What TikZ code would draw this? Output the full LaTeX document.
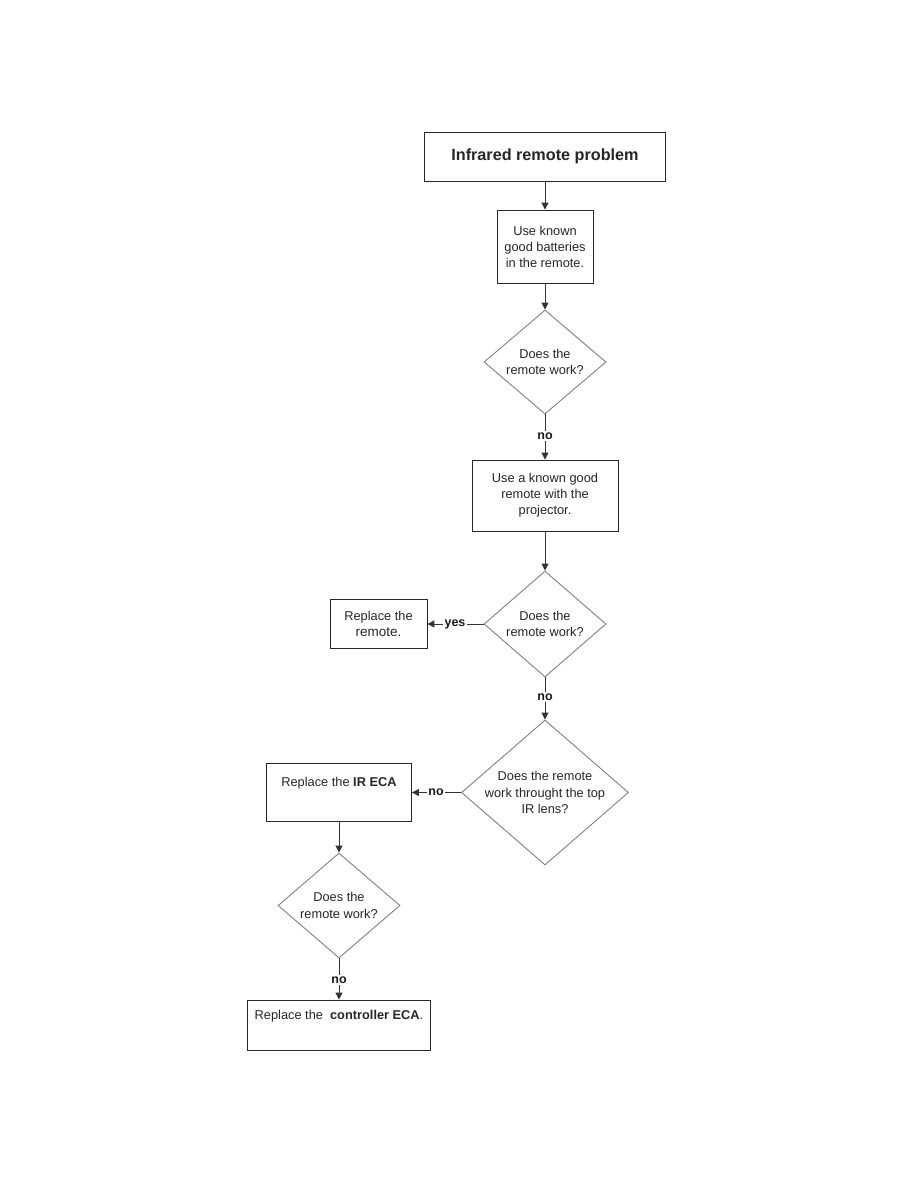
\documentclass[tikz,border=0pt]{standalone}
\usepackage{fontspec}
\setmainfont{Liberation Sans}
\usetikzlibrary{shapes.geometric,arrows.meta}
\begin{document}
\begin{tikzpicture}[x=1pt,y=-1pt,
  box/.style={draw=black!85, line width=0.9pt, fill=white, align=center, inner sep=0pt, text=black!85, font=\fontsize{12.8}{16}\selectfont},
  dia/.style={diamond, draw=black!50, line width=0.9pt, align=center, inner sep=0pt, text=black!85, font=\fontsize{12.8}{16.5}\selectfont},
  diatext/.style={align=center, inner sep=0pt, text=black!85, font=\fontsize{12.8}{16.5}\selectfont},
  lbl/.style={font=\bfseries\fontsize{12.5}{14}\selectfont, inner sep=1.5pt, text=black!90},
  conn/.style={draw=black!80, line width=1pt},
  arr/.style={conn, -{Triangle[length=7pt,width=7pt]}}]
\useasboundingbox[fill=white] (0,0) rectangle (918,1188);
\node[box, minimum width=241, minimum height=49, font=\bfseries\fontsize{16.2}{18}\selectfont] (t) at (545,156.5) {Infrared remote problem};
\node[box, minimum width=96, minimum height=73] (b1) at (545,246.5) {Use known\\good batteries\\in the remote.};
\node[dia, minimum width=122, minimum height=104] (d1) at (545,362) {Does the\\remote work?};
\node[lbl] (n1) at (545,436) {no};
\node[box, minimum width=146, minimum height=71] (b2) at (545,495.5) {Use a known good\\remote with the\\projector.};
\node[dia, minimum width=122, minimum height=106] (d2) at (545,624) {Does the\\remote work?};
\node[box, minimum width=97, minimum height=49] (r1) at (378.5,624) {Replace the\\{\fontsize{13.5}{16}\selectfont remote.}};
\node[lbl] (y2) at (455,624) {yes};
\node[lbl] (n2) at (545,697) {no};
\node[dia, minimum width=167, minimum height=145, label={[diatext]center:Does the remote\\work throught the top\\IR lens?}] (d3) at (545,792.5) {};
\node[box, minimum width=145, minimum height=58] (r2) at (339,792.5) {Replace the \textbf{IR ECA}\\\strut};
\node[lbl] (n3) at (436,792.5) {no};
\node[dia, minimum width=122, minimum height=105] (d4) at (339,905.5) {Does the\\remote work?};
\node[lbl] (n4) at (339,980) {no};
\node[box, minimum width=183, minimum height=50] (r3) at (339,1025) {Replace the \ \textbf{controller ECA}.\\\strut};
\draw[arr] (t.south) -- (b1.north);
\draw[arr] (b1.south) -- (d1.north);
\draw[conn] (d1.south) -- (n1.north);
\draw[arr] (n1.south) -- (b2.north);
\draw[arr] (b2.south) -- (d2.north);
\draw[conn] (d2.west) -- (y2.east);
\draw[arr] (y2.west) -- (r1.east);
\draw[conn] (d2.south) -- (n2.north);
\draw[arr] (n2.south) -- (d3.north);
\draw[conn] (d3.west) -- (n3.east);
\draw[arr] (n3.west) -- (r2.east);
\draw[arr] (r2.south) -- (d4.north);
\draw[conn] (d4.south) -- (n4.north);
\draw[arr] (n4.south) -- (r3.north);
\end{tikzpicture}
\end{document}
